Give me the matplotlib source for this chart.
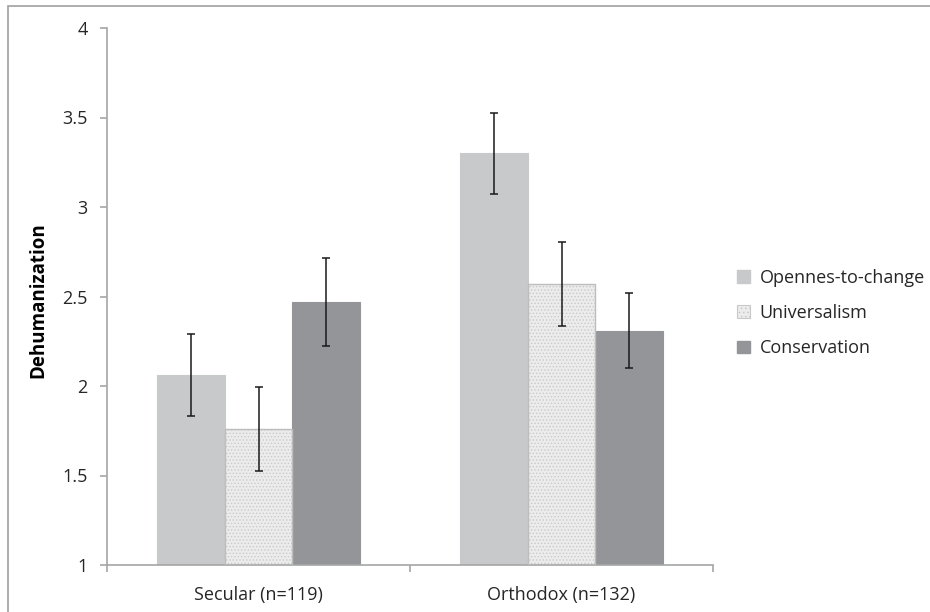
import matplotlib
matplotlib.use("Agg")
import matplotlib.pyplot as plt
import numpy as np
from matplotlib.patches import Patch, Rectangle
from matplotlib.ticker import FixedLocator, FuncFormatter

plt.rcParams['font.family'] = ['Open Sans', 'DejaVu Sans']
plt.rcParams['hatch.linewidth'] = 0.6

# data
groups = ['Secular (n=119)', 'Orthodox (n=132)']
series = ['Opennes-to-change', 'Universalism', 'Conservation']
means = {
    'Opennes-to-change': [2.06, 3.30],
    'Universalism': [1.76, 2.57],
    'Conservation': [2.47, 2.31],
}
errors = {
    'Opennes-to-change': [0.23, 0.225],
    'Universalism': [0.235, 0.233],
    'Conservation': [0.245, 0.21],
}

face = {'Opennes-to-change': '#c8c9cb', 'Universalism': '#ececec', 'Conservation': '#939598'}
hatch_col = '#c9c9c9'
text_col = '#262626'
axis_col = '#a6a6a6'

fig = plt.figure(figsize=(9.3, 6.12), dpi=100)
ax = fig.add_axes([107/930, 1 - 565/612, (713 - 107)/930, (565 - 28)/612])

# frame around the figure (left and top visible)
fig.patches.append(Rectangle((8/930, -0.1), 1.2, 1 - 6/612 + 0.1, transform=fig.transFigure,
                             fill=False, edgecolor='#a0a0a0', lw=1.2))

centers = np.arange(len(groups)) + 0.5
width = 0.67 / 3
for i, s in enumerate(series):
    x = centers + (i - 1) * width
    bottom = 1
    h = np.array(means[s]) - bottom
    if s == 'Universalism':
        ax.bar(x, h, width, bottom=bottom, color=face[s], edgecolor=hatch_col, hatch='.....', lw=0, zorder=2)
        ax.bar(x, h, width, bottom=bottom, fill=False, edgecolor='#bdbdbd', lw=1, zorder=3)
    else:
        ax.bar(x, h, width, bottom=bottom, color=face[s], edgecolor=face[s], lw=0.8, zorder=2)
    ax.errorbar(x, means[s], yerr=errors[s], fmt='none', ecolor='#1a1a1a', elinewidth=1.1,
                capsize=3.2, capthick=1.1, zorder=4)

ax.set_xlim(0, 2)
ax.set_ylim(1, 4)
ax.yaxis.set_major_locator(FixedLocator(np.arange(1, 4.01, 0.5)))
ax.yaxis.set_major_formatter(FuncFormatter(lambda v, p: f'{v:g}'))
ax.xaxis.set_major_locator(FixedLocator([0, 1, 2]))
ax.xaxis.set_major_formatter(FuncFormatter(lambda v, p: ''))
ax.xaxis.set_minor_locator(FixedLocator(centers))
ax.set_xticklabels(groups, minor=True)

for sp in ['top', 'right']:
    ax.spines[sp].set_visible(False)
for sp in ['left', 'bottom']:
    ax.spines[sp].set_color(axis_col)
    ax.spines[sp].set_linewidth(1.2)

ax.tick_params(axis='y', direction='out', length=5, width=1.2, color=axis_col, pad=9,
               labelsize=13, labelcolor=text_col)
ax.tick_params(axis='x', which='major', direction='out', length=5, width=1.2, color=axis_col)
ax.tick_params(axis='x', which='minor', length=0, pad=15, labelsize=13, labelcolor=text_col)

fig.text(38/930, 1 - 300/612, 'Dehumanization', rotation=90, ha='center', va='center',
         fontsize=13.5, fontweight='bold', color='#000000')

handles = [Patch(facecolor=face['Opennes-to-change'], edgecolor=face['Opennes-to-change']),
           Patch(facecolor=face['Universalism'], edgecolor=hatch_col, hatch='....', lw=0.8),
           Patch(facecolor=face['Conservation'], edgecolor=face['Conservation'])]
fig.legend(handles, series, loc='center left', bbox_to_anchor=(721/930, 1 - 313/612),
           frameon=False, fontsize=13, handlelength=0.7, handleheight=0.7,
           handletextpad=0.55, labelspacing=0.95, labelcolor=text_col)

fig.savefig('out.png', dpi=100)
